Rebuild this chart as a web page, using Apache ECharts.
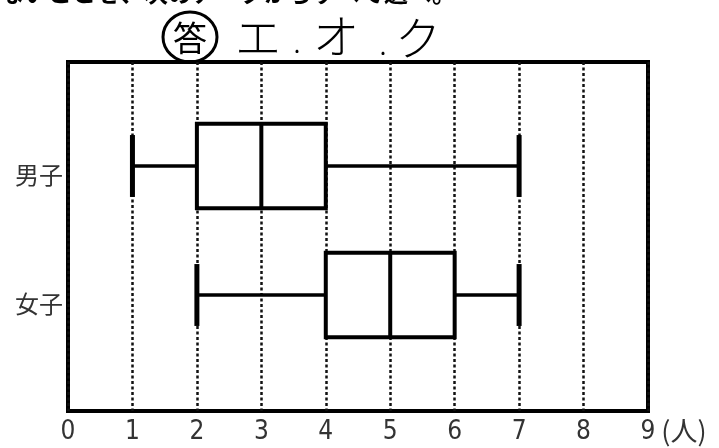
<!DOCTYPE html>
<html>
<head>
<meta charset="utf-8">
<script src="https://cdn.jsdelivr.net/npm/echarts@6/dist/echarts.min.js"></script>
<style>html,body{margin:0;padding:0;background:#fff;}#c{width:719px;height:448px;}</style>
</head>
<body>
<div id="c"></div>
<script>
const categories = ['男子', '女子'];
const minValues = [1, 2];
const q1Values = [2, 4];
const medianValues = [3, 5];
const q3Values = [4, 6];
const maxValues = [7, 7];
const xTickLabels = ['0','1','2','3','4','5','6','7','8','9'];
const xUnit = '(人)';

const chart = echarts.init(document.getElementById('c'), null, {renderer: 'canvas'});

const boxData = categories.map((c, i) => [i, minValues[i], q1Values[i], medianValues[i], q3Values[i], maxValues[i]]);

function renderItem(params, api) {
  const idx = api.value(0);
  const y = api.coord([0, idx])[1];
  const band = api.size([0, 1])[1];
  const xMin = api.coord([api.value(1), idx])[0];
  const xQ1 = api.coord([api.value(2), idx])[0];
  const xMed = api.coord([api.value(3), idx])[0];
  const xQ3 = api.coord([api.value(4), idx])[0];
  const xMax = api.coord([api.value(5), idx])[0];
  const boxH = band * 0.655;
  const capH = band * 0.48;
  const st = {stroke: '#000', lineWidth: 4, fill: null};
  return {
    type: 'group',
    children: [
      {type: 'line', shape: {x1: xMin, y1: y, x2: xQ1, y2: y}, style: {stroke: '#000', lineWidth: 3.5}},
      {type: 'line', shape: {x1: xQ3, y1: y, x2: xMax, y2: y}, style: {stroke: '#000', lineWidth: 3.5}},
      {type: 'line', shape: {x1: xMin, y1: y - capH / 2, x2: xMin, y2: y + capH / 2}, style: {stroke: '#000', lineWidth: 5}},
      {type: 'line', shape: {x1: xMax, y1: y - capH / 2, x2: xMax, y2: y + capH / 2}, style: {stroke: '#000', lineWidth: 5}},
      {type: 'rect', shape: {x: xQ1, y: y - boxH / 2, width: xQ3 - xQ1, height: boxH}, style: {stroke: '#000', lineWidth: 4, fill: '#fff'}},
      {type: 'line', shape: {x1: xMed, y1: y - boxH / 2, x2: xMed, y2: y + boxH / 2}, style: st}
    ]
  };
}

const hand = {fill: '#000', fontFamily: 'Noto Sans CJK JP', fontWeight: 300, fontSize: 46, align: 'center', verticalAlign: 'middle'};

chart.setOption({
  animation: false,
  backgroundColor: '#fff',
  grid: [
    {left: 68, right: 71, top: 62, bottom: 37, outerBoundsMode: 'none', containLabel: false, show: true, borderColor: '#000', borderWidth: 4, backgroundColor: 'transparent'},
    {left: 68, right: 71, top: 101.5, bottom: 88.5, outerBoundsMode: 'none', containLabel: false}
  ],
  xAxis: [
    {
      gridIndex: 0, type: 'value', min: 0, max: 9, interval: 1,
      axisLine: {show: false}, axisTick: {show: false},
      splitLine: {show: true, lineStyle: {color: '#111', width: 2.5, type: [3, 2.5]}},
      axisLabel: {
        margin: 8, fontSize: 26, color: '#333',
        fontFamily: "'Liberation Sans Narrow', 'DejaVu Sans Condensed', sans-serif",
        formatter: v => xTickLabels[v]
      },
      name: xUnit, nameLocation: 'end', nameGap: 0,
      nameTextStyle: {fontSize: 27, color: '#333', fontFamily: "'Noto Sans CJK JP', sans-serif", lineHeight: 40, verticalAlign: 'top', align: 'left'}
    },
    {gridIndex: 1, type: 'value', min: 0, max: 9, show: false}
  ],
  yAxis: [
    {gridIndex: 0, type: 'value', show: false},
    {
      gridIndex: 1, type: 'category', data: categories, inverse: true,
      axisLine: {show: false}, axisTick: {show: false}, splitLine: {show: false},
      axisLabel: {fontSize: 24, color: '#333', margin: 5, verticalAlign: 'top', lineHeight: 18, fontFamily: "'Noto Sans CJK JP', sans-serif"}
    }
  ],
  series: [{
    type: 'custom', xAxisIndex: 1, yAxisIndex: 1,
    renderItem: renderItem,
    encode: {x: [1, 2, 3, 4, 5], y: 0},
    data: boxData,
    clip: false
  }],
  graphic: [
    {type: 'text', left: 0, top: -19, style: {text: 'ないことを、次のア～クからすべて選べ。', fontSize: 24, fontWeight: 'bold', fill: '#000', fontFamily: 'Noto Sans CJK JP'}},
    {type: 'ellipse', shape: {cx: 190, cy: 37, rx: 27, ry: 25}, style: {stroke: '#000', lineWidth: 3, fill: null}},
    {type: 'text', x: 190, y: 38, style: Object.assign({}, hand, {text: '答', fontSize: 34, fontWeight: 400})},
    {type: 'text', x: 258, y: 37, style: Object.assign({}, hand, {text: 'エ'})},
    {type: 'text', x: 297, y: 42, style: Object.assign({}, hand, {text: '.', fontSize: 30})},
    {type: 'text', x: 336, y: 36, style: Object.assign({}, hand, {text: 'オ'})},
    {type: 'text', x: 383, y: 44, style: Object.assign({}, hand, {text: '.', fontSize: 30})},
    {type: 'text', x: 418, y: 38, style: Object.assign({}, hand, {text: 'ク'})}
  ]
});
</script>
</body>
</html>
